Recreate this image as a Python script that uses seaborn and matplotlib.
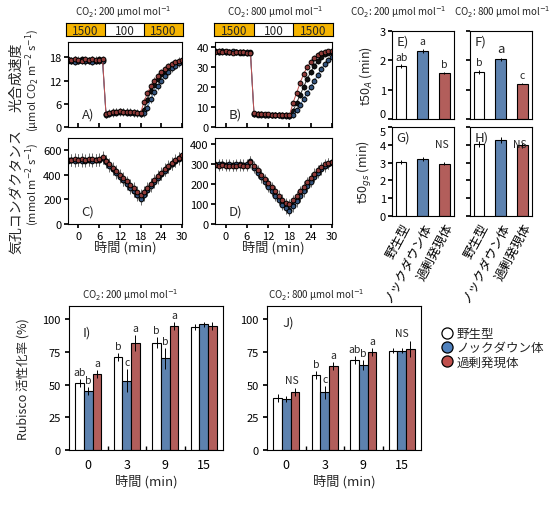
import numpy as np
import pandas as pd
import matplotlib
matplotlib.use("Agg")
import matplotlib.pyplot as plt
from matplotlib.lines import Line2D
import seaborn as sns

sns.set_theme(style="ticks")
plt.rcParams["font.family"] = ["Noto Sans CJK JP", "DejaVu Sans"]
plt.rcParams["mathtext.fontset"] = "dejavusans"
plt.rcParams["axes.edgecolor"] = "black"
plt.rcParams["axes.linewidth"] = 0.8
plt.rcParams["xtick.color"] = "black"
plt.rcParams["ytick.color"] = "black"

BLUE = "#4f81bd"
RED = "#c0504d"
GOLD = "#f5b400"

# -----------------------------------
# Data
# -----------------------------------
genotypes = ["野生型", "ノックダウン体", "過剰発現体"]
bar_colors = ["white", BLUE, RED]
dot_colors = ["#111111", "#34557f", "#8f3a38"]
line_colors = ["#333333", BLUE, RED]

time_min = list(range(-3, 31))

# photosynthesis, CO2 200
A_wt = [17.3, 17.1, 17.4, 17.2, 17.5, 17.1, 17.3, 17.4, 17.2, 17.5, 17.3,
        3.3, 3.6, 3.8, 3.9, 4.0, 3.9, 3.9, 3.8, 3.7, 3.6, 3.5,
        4.5, 7.0, 9.3, 11.0, 12.4, 13.6, 14.6, 15.4, 16.0, 16.5, 16.9, 17.2]
A_kd = [17.0, 17.2, 16.9, 17.1, 17.3, 17.0, 17.2, 16.9, 17.1, 17.2, 17.0,
        3.2, 3.4, 3.6, 3.7, 3.8, 3.8, 3.7, 3.7, 3.6, 3.5, 3.4,
        3.6, 5.0, 7.2, 9.0, 10.6, 12.0, 13.2, 14.3, 15.2, 15.9, 16.5, 17.0]
A_oe = [17.5, 17.3, 17.6, 17.4, 17.2, 17.5, 17.3, 17.6, 17.4, 17.3, 17.5,
        3.4, 3.7, 3.9, 4.0, 4.1, 4.0, 4.0, 3.9, 3.8, 3.7, 3.6,
        6.5, 8.8, 10.6, 12.0, 13.2, 14.2, 15.0, 15.7, 16.3, 16.8, 17.1, 17.4]

# photosynthesis, CO2 800
B_wt = [37.8, 37.5, 38.0, 37.6, 37.3, 37.7, 37.4, 37.2, 37.5, 37.0, 37.3,
        6.6, 6.4, 6.3, 6.2, 6.2, 6.1, 6.0, 6.0, 5.9, 5.8, 5.6,
        8, 12, 16, 20, 24, 27.5, 30.5, 33, 35, 36.5, 37.2, 37.5]
B_kd = [38.0, 37.7, 37.9, 37.5, 37.6, 37.8, 37.3, 37.5, 37.2, 37.4, 37.1,
        6.4, 6.2, 6.1, 6.0, 6.0, 5.9, 5.9, 5.8, 5.7, 5.6, 5.4,
        6, 8.5, 11, 14, 17, 20, 23, 26, 29, 31.5, 33.5, 35]
B_oe = [37.6, 37.9, 37.4, 37.8, 37.5, 37.2, 37.6, 37.3, 37.4, 37.2, 37.0,
        6.8, 6.5, 6.4, 6.3, 6.3, 6.2, 6.1, 6.1, 6.0, 5.9, 5.8,
        12, 17, 22, 26.5, 30, 32.5, 34.5, 36, 37, 37.5, 37.8, 38]

# stomatal conductance, CO2 200
C_wt = [520, 518, 522, 519, 521, 517, 520, 523, 519, 521, 540,
        510, 480, 450, 420, 390, 360, 330, 300, 270, 240, 210,
        245, 280, 315, 350, 380, 410, 440, 465, 490, 515, 535, 555]
C_kd = [515, 517, 514, 518, 516, 513, 517, 515, 518, 520, 535,
        505, 475, 445, 415, 385, 355, 325, 295, 265, 232, 200,
        238, 275, 310, 345, 375, 405, 435, 460, 485, 510, 530, 550]
C_oe = [525, 522, 526, 523, 527, 524, 526, 528, 524, 526, 545,
        515, 487, 458, 430, 402, 374, 346, 318, 290, 262, 235,
        262, 295, 328, 360, 390, 418, 446, 472, 497, 520, 540, 560]

# stomatal conductance, CO2 800
D_wt = [297, 295, 298, 294, 296, 293, 295, 297, 294, 296, 312,
        285, 262, 240, 218, 196, 174, 152, 130, 108, 88, 72,
        95, 120, 145, 170, 195, 218, 240, 260, 278, 292, 302, 308]
D_kd = [300, 298, 301, 297, 299, 296, 298, 300, 297, 299, 315,
        280, 256, 233, 210, 187, 164, 141, 119, 97, 78, 65,
        88, 113, 138, 163, 188, 212, 234, 255, 273, 288, 299, 305]
D_oe = [293, 291, 294, 290, 292, 289, 291, 293, 290, 292, 308,
        290, 268, 247, 226, 205, 184, 163, 142, 122, 104, 98,
        118, 141, 164, 187, 210, 231, 252, 270, 286, 298, 306, 311]

ts_err = {"A": 0.9, "B": 1.4, "C": 48, "D": 26}

light_labels = ["1500", "100", "1500"]

# t50 bars
t50A_200 = [1.80, 2.33, 1.57]
t50A_200_err = [0.06, 0.07, 0.03]
t50A_800 = [1.61, 2.03, 1.21]
t50A_800_err = [0.07, 0.05, 0.03]
t50gs_200 = [3.05, 3.20, 2.93]
t50gs_200_err = [0.12, 0.12, 0.08]
t50gs_800 = [4.03, 4.27, 3.97]
t50gs_800_err = [0.18, 0.17, 0.15]
E_letters = ["ab", "a", "b"]
F_letters = ["b", "a", "c"]

# Rubisco activation
rub_times = ["0", "3", "9", "15"]
I_vals = {"野生型": [51, 71, 82, 94], "ノックダウン体": [45, 53, 70, 96], "過剰発現体": [58, 82, 95, 95]}
I_errs = {"野生型": [3, 3, 4, 2], "ノックダウン体": [3, 9, 8, 2], "過剰発現体": [3, 6, 3, 3]}
J_vals = {"野生型": [40, 57, 69, 76], "ノックダウン体": [39, 44, 65, 76], "過剰発現体": [44, 64, 75, 77]}
J_errs = {"野生型": [3, 3, 3, 2], "ノックダウン体": [2, 5, 4, 2], "過剰発現体": [3, 3, 3, 6]}
I_letters = [["ab", "b", "a"], ["b", "c", "a"], ["b", "b", "a"], ["", "", ""]]
J_letters = [["", "", ""], ["b", "c", "a"], ["ab", "b", "a"], ["", "", ""]]
J_ns = [True, False, False, True]

co2_200 = "CO$_2$: 200 µmol mol$^{-1}$"
co2_800 = "CO$_2$: 800 µmol mol$^{-1}$"

# -----------------------------------
# Figure
# -----------------------------------
W, H = 560, 506
fig = plt.figure(figsize=(W / 100, H / 100), dpi=100)


def px_axes(x0, y0, x1, y1):
    return fig.add_axes([x0 / W, 1 - y1 / H, (x1 - x0) / W, (y1 - y0) / H])


def time_panel(ax, series, err, ylim, yticks, letter, bottom_labels):
    for vals, fc, lc in zip(series, dot_colors, line_colors):
        ax.errorbar(time_min, vals, yerr=err, fmt="none", ecolor="#6e6e6e",
                    elinewidth=0.7, capsize=0, zorder=1)
    for vals, fc, lc in zip(series, dot_colors, line_colors):
        sns.lineplot(x=time_min, y=vals, ax=ax, color=lc, linewidth=0.7,
                     marker="o", markersize=3.4, markerfacecolor=fc,
                     markeredgecolor="black", markeredgewidth=0.7, zorder=2)
    ax.set_xlim(-3, 30)
    ax.set_ylim(*ylim)
    ax.set_yticks(yticks)
    ax.set_xticks([0, 6, 12, 18, 24, 30])
    ax.tick_params(axis="y", labelsize=8, length=3, pad=1.5)
    if bottom_labels:
        ax.tick_params(axis="x", labelsize=8, length=3, pad=2)
    else:
        ax.tick_params(axis="x", direction="in", length=3, labelbottom=False)
    ax.set_xlabel("")
    ax.set_ylabel("")
    ax.text(0.12, 0.15, letter, transform=ax.transAxes, fontsize=9.5, va="center")


def header(x0, x1):
    ax = px_axes(x0, 24, x1, 37)
    ax.set_xlim(0, 3)
    ax.set_ylim(0, 1)
    for i, lab in enumerate(light_labels):
        ax.axvspan(i, i + 1, color=GOLD if lab == "1500" else "white", lw=0)
        ax.text(i + 0.5, 0.45, lab, ha="center", va="center", fontsize=8.5)
    ax.axvline(1, color="black", lw=0.8)
    ax.axvline(2, color="black", lw=0.8)
    ax.set_xticks([])
    ax.set_yticks([])


axA = px_axes(68, 43, 182, 128)
axC = px_axes(68, 139, 182, 225)
axB = px_axes(215, 43, 332, 128)
axD = px_axes(215, 139, 332, 225)

time_panel(axA, [A_wt, A_kd, A_oe], ts_err["A"], (0, 22), [0, 6, 12, 18], "A)", False)
time_panel(axB, [B_wt, B_kd, B_oe], ts_err["B"], (0, 42.5), [0, 10, 20, 30, 40], "B)", False)
time_panel(axC, [C_wt, C_kd, C_oe], ts_err["C"], (0, 700), [0, 200, 400, 600], "C)", True)
time_panel(axD, [D_wt, D_kd, D_oe], ts_err["D"], (0, 430), [0, 100, 200, 300, 400], "D)", True)

header(66, 183)
header(214, 333)
fig.text(123 / W, 1 - 12 / H, co2_200, ha="center", va="center", fontsize=7)
fig.text(275 / W, 1 - 12 / H, co2_800, ha="center", va="center", fontsize=7)

fig.text(16 / W, 1 - 77 / H, "光合成速度", rotation=90, ha="center", va="center", fontsize=10)
fig.text(32 / W, 1 - 80 / H, "(µmol CO$_2$ m$^{-2}$ s$^{-1}$)", rotation=90,
         ha="center", va="center", fontsize=8)
fig.text(16 / W, 1 - 192 / H, "気孔コンダクタンス", rotation=90, ha="center", va="center", fontsize=10)
fig.text(32 / W, 1 - 184 / H, "(mmol m$^{-2}$ s$^{-1}$)", rotation=90,
         ha="center", va="center", fontsize=8)
fig.text(125 / W, 1 - 248 / H, "時間 (min)", ha="center", va="center", fontsize=9.5)
fig.text(273 / W, 1 - 248 / H, "時間 (min)", ha="center", va="center", fontsize=9.5)


# t50 bar panels
def t50_panel(ax, vals, errs, ylim, yticks, letter, marks, ns, ylabels, xlabels, big_mid=False):
    df = pd.DataFrame({"genotype": genotypes, "value": vals})
    sns.barplot(data=df, x="genotype", y="value", hue="genotype", order=genotypes,
                hue_order=genotypes, palette=bar_colors, width=0.5, edgecolor="black",
                linewidth=0.8, legend=False, ax=ax)
    ax.errorbar(range(3), vals, yerr=errs, fmt="none", ecolor="black",
                elinewidth=0.7, capsize=0)
    ax.set_xlim(-0.42, 2.45)
    ax.set_ylim(*ylim)
    ax.set_yticks(yticks)
    ax.set_yticklabels([str(v) for v in yticks])
    ax.tick_params(axis="y", labelsize=8, length=3, pad=1.5, labelleft=ylabels)
    ax.tick_params(axis="x", length=0, labelbottom=xlabels)
    if xlabels:
        ax.set_xticks(range(3))
        ax.set_xticklabels(genotypes, rotation=62, ha="right", rotation_mode="anchor", fontsize=9)
    ax.set_xlabel("")
    ax.set_ylabel("")
    ax.text(0.07, 0.89, letter, transform=ax.transAxes, fontsize=9.5, va="center")
    span = ylim[1] - ylim[0]
    for i, m in enumerate(marks):
        fs = 9.5 if (big_mid and i == 1) else 7.5
        ax.text(i, vals[i] + errs[i] + 0.03 * span, m, ha="center", va="bottom", fontsize=fs)
    if ns:
        ax.text(0.81, 0.81, "NS", transform=ax.transAxes, ha="center", va="center", fontsize=7.5)


axE = px_axes(392, 32, 454, 120)
axF = px_axes(470, 32, 532, 120)
axG = px_axes(392, 128, 454, 217)
axH = px_axes(470, 128, 532, 217)

t50_panel(axE, t50A_200, t50A_200_err, (0, 3), [0, 1, 2, 3], "E)", E_letters, False, True, False)
t50_panel(axF, t50A_800, t50A_800_err, (0, 3), [0, 1, 2, 3], "F)", F_letters, False, False, False, big_mid=True)
t50_panel(axG, t50gs_200, t50gs_200_err, (0, 5), [0, 1, 2, 3, 4, 5], "G)", [], True, True, True)
t50_panel(axH, t50gs_800, t50gs_800_err, (0, 5), [0, 1, 2, 3, 4, 5], "H)", [], True, False, True)

# keep the stacked "0" (E) and "5" (G) labels apart
axE.get_yticklabels()[0].set_va("bottom")
axG.get_yticklabels()[-1].set_va("top")

axE.set_ylabel("t50$_A$ (min)", fontsize=9, labelpad=4)
axG.set_ylabel("t50$_{gs}$ (min)", fontsize=9, labelpad=4)
fig.text(398 / W, 1 - 12 / H, co2_200, ha="center", va="center", fontsize=7)
fig.text(502 / W, 1 - 12 / H, co2_800, ha="center", va="center", fontsize=7)


# Rubisco panels
def rubisco_panel(ax, vals, errs, marks, ns):
    rows = []
    for g in genotypes:
        for t, v in zip(rub_times, vals[g]):
            rows.append({"time": t, "genotype": g, "value": v})
    df = pd.DataFrame(rows)
    sns.barplot(data=df, x="time", y="value", hue="genotype", order=rub_times,
                hue_order=genotypes, palette=bar_colors, width=0.68, edgecolor="black",
                linewidth=0.8, legend=False, ax=ax)
    tops = np.zeros((4, 3))
    for h, (g, cont) in enumerate(zip(genotypes, ax.containers)):
        xs = [b.get_x() + b.get_width() / 2 for b in cont]
        ax.errorbar(xs, vals[g], yerr=errs[g], fmt="none", ecolor="black",
                    elinewidth=0.7, capsize=0)
        for k, x in enumerate(xs):
            top = vals[g][k] + errs[g][k]
            tops[k, h] = top
            if marks[k][h]:
                ax.text(x, top + 1.5, marks[k][h], ha="center", va="bottom", fontsize=7.5)
    for k, flag in enumerate(ns):
        if flag:
            ax.text(k + 0.15 if k == 0 else k, tops[k].max() + 2.5, "NS",
                    ha="center", va="bottom", fontsize=7.5)
    ax.set_xlim(-0.5, 3.5)
    ax.set_ylim(0, 110)
    ax.set_yticks([0, 25, 50, 75, 100])
    ax.tick_params(axis="y", labelsize=8, length=3, pad=3)
    ax.tick_params(axis="x", which="major", length=0, labelsize=9, pad=6)
    ax.set_xticks([0.5, 1.5, 2.5], minor=True)
    ax.tick_params(axis="x", which="minor", direction="in", length=3)
    ax.set_xlabel("時間 (min)", fontsize=9.5, labelpad=2)
    ax.set_ylabel("")


axI = px_axes(69, 307, 223, 451)
axJ = px_axes(267, 307, 421, 451)
rubisco_panel(axI, I_vals, I_errs, I_letters, [False] * 4)
rubisco_panel(axJ, J_vals, J_errs, J_letters, J_ns)
axI.text(0.09, 0.82, "I)", transform=axI.transAxes, fontsize=9.5, va="center")
axJ.text(0.10, 0.89, "J)", transform=axJ.transAxes, fontsize=9.5, va="center")
axI.set_ylabel("Rubisco 活性化率 (%)", fontsize=9, labelpad=9)
fig.text(82 / W, 1 - 295 / H, co2_200, ha="left", va="center", fontsize=7)
fig.text(268 / W, 1 - 295 / H, co2_800, ha="left", va="center", fontsize=7)

handles = [Line2D([], [], marker="o", ls="", markerfacecolor=c, markeredgecolor="black",
                  markersize=8, markeredgewidth=0.9) for c in bar_colors]
fig.legend(handles, genotypes, loc="upper left", bbox_to_anchor=(434 / W, 1 - 323 / H),
           frameon=False, fontsize=9, handletextpad=0.2, labelspacing=0.1,
           borderaxespad=0, handlelength=1.2)

fig.savefig("out.png", dpi=100)
